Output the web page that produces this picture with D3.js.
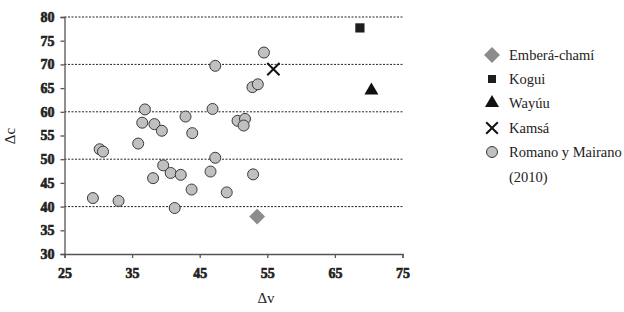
<!DOCTYPE html>
<html>
<head>
<meta charset="utf-8">
<script src="https://cdn.jsdelivr.net/npm/d3@7"></script>
<style>
  body { margin: 0; background: #fff; }
  svg { display: block; }
  svg text { font-family: "Liberation Serif", "Times New Roman", serif; fill: #222; }
  .tick text { font-weight: 700; font-size: 14px; stroke: #222; stroke-width: 0.6px; }
</style>
</head>
<body>
<div id="chart"></div>
<script>
// Romano y Mairano (2010) points [Δv, Δc]
const romanoV = [47.3, 36.9, 46.9, 36.5, 38.3, 39.4, 42.9, 43.9, 35.9, 30.2, 30.7, 54.5, 52.8, 53.6, 50.6,
  51.7, 51.5, 47.3, 39.6, 40.7, 42.2, 38.1, 46.6, 43.8, 29.2, 33.0, 41.3, 52.9, 49.0];
const romanoC = [69.7, 60.5, 60.6, 57.7, 57.4, 56.0, 59.0, 55.5, 53.3, 52.1, 51.6, 72.5, 65.2, 65.8, 58.1,
  58.5, 57.1, 50.3, 48.7, 47.1, 46.7, 46.0, 47.4, 43.6, 41.8, 41.2, 39.7, 46.8, 43.0];

const groups = ['Emberá-chamí', 'Kogui', 'Wayúu', 'Kamsá'];
const groupV = [53.5, 68.7, 70.4, 55.9];
const groupC = [37.9, 77.7, 64.5, 69.0];

const xTicks = [25, 35, 45, 55, 65, 75];
const yTicks = [30, 35, 40, 45, 50, 55, 60, 65, 70, 75, 80];
const gridTicks = [40, 50, 60, 70, 80];

const width = 624, height = 312;
const x = d3.scaleLinear().domain([25, 75]).range([64.5, 402.5]);
const y = d3.scaleLinear().domain([30, 80]).range([254, 17]);

const svg = d3.select('#chart').append('svg')
  .attr('width', width).attr('height', height);

// dotted gridlines
svg.append('g').selectAll('line').data(gridTicks).join('line')
  .attr('x1', x(25)).attr('x2', x(75))
  .attr('y1', (d) => y(d)).attr('y2', (d) => y(d))
  .attr('stroke', '#222').attr('stroke-width', 1).attr('stroke-dasharray', '2,1.5');

const xAxis = svg.append('g').attr('transform', `translate(0,${y(30)})`)
  .call(d3.axisBottom(x).tickValues(xTicks).tickSize(4).tickPadding(10));
const yAxis = svg.append('g').attr('transform', `translate(${x(25)},0)`)
  .call(d3.axisLeft(y).tickValues(yTicks).tickSize(4).tickPadding(6));

[xAxis, yAxis].forEach((a) => {
  a.attr('font-family', null).attr('font-size', null);
  a.select('.domain').attr('stroke', '#555').attr('stroke-width', 1.3);
  a.selectAll('.tick line').attr('stroke', '#555').attr('stroke-width', 1.3);
});

// axis titles
svg.append('text').attr('x', 266).attr('y', 303).attr('text-anchor', 'middle')
  .style('font-size', '15px').text('Δv');
svg.append('text').attr('transform', 'translate(15,136) rotate(-90)').attr('text-anchor', 'middle')
  .style('font-size', '15px').text('Δc');

// Romano y Mairano circles
const romano = romanoV.map((v, i) => ({ v, c: romanoC[i] }));
svg.append('g').selectAll('circle').data(romano).join('circle')
  .attr('cx', (d) => x(d.v)).attr('cy', (d) => y(d.c)).attr('r', 5.5)
  .attr('fill', '#c0c0c0').attr('stroke', '#3a3a3a').attr('stroke-width', 1);

// group markers
const symbolStyle = {
  'Emberá-chamí': { type: d3.symbolDiamond2, size: 160, fill: '#8c8c8c', stroke: 'none' },
  'Kogui': { type: d3.symbolSquare, size: 85, fill: '#1e1e1e', stroke: 'none' },
  'Wayúu': { type: d3.symbolTriangle, size: 85, fill: '#111', stroke: 'none' },
  'Kamsá': { type: d3.symbolTimes, size: 100, fill: 'none', stroke: '#111' },
};
function drawSymbol(g, name, cx, cy, scale = 1) {
  const s = symbolStyle[name];
  g.append('path').attr('d', d3.symbol(s.type, s.size * scale)())
    .attr('transform', `translate(${cx},${cy})`)
    .attr('fill', s.fill).attr('stroke', s.stroke).attr('stroke-width', 2);
}
const gm = svg.append('g');
groups.forEach((name, i) => drawSymbol(gm, name, x(groupV[i]), y(groupC[i])));

// legend
const legend = svg.append('g').style('font-size', '14.5px');
const rowY = [55, 79, 103, 128];
const legendScale = [1, 0.75, 1, 0.9];
groups.forEach((name, i) => {
  drawSymbol(legend, name, 492, rowY[i], legendScale[i]);
  legend.append('text').attr('x', 509).attr('y', rowY[i] + 5).text(name);
});
legend.append('circle').attr('cx', 492).attr('cy', 152).attr('r', 5.5)
  .attr('fill', '#c0c0c0').attr('stroke', '#3a3a3a').attr('stroke-width', 1);
legend.append('text').attr('x', 509).attr('y', 157).text('Romano y Mairano');
legend.append('text').attr('x', 509).attr('y', 182).text('(2010)');
</script>
</body>
</html>
